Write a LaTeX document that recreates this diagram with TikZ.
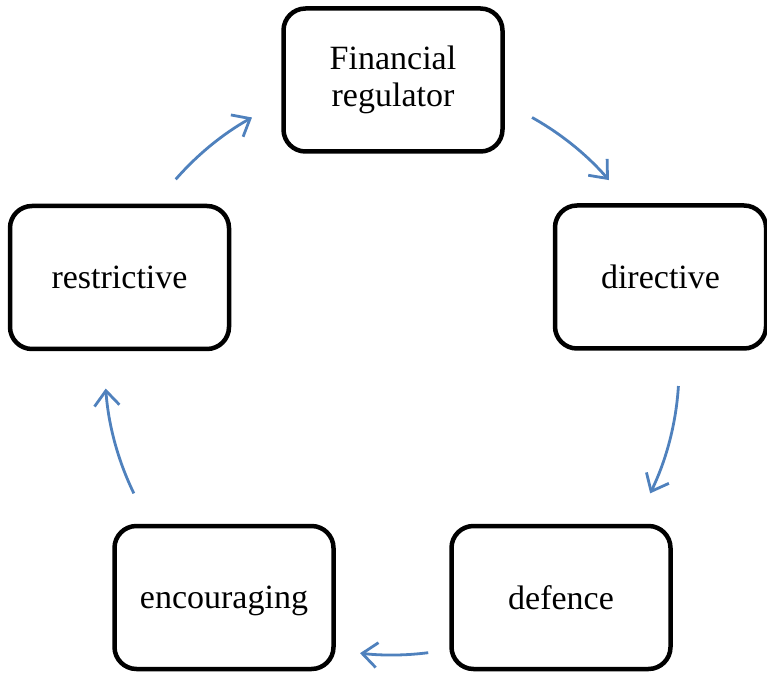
\documentclass[tikz,border=0pt]{standalone}
\usepackage{fontspec}
\setmainfont{Liberation Serif}
\usetikzlibrary{arrows.meta}
\definecolor{arrblue}{RGB}{79,129,189}
\tikzset{
  box/.style={draw=black, line width=4.5pt, rounded corners=22pt, fill=white,
    minimum width=219pt, minimum height=143pt, align=center, inner sep=0pt,
    font=\fontsize{34}{37}\selectfont},
  arr/.style={draw=arrblue, line width=2.8pt, -{Straight Barb[length=15pt,width=25pt,line width=2.8pt]}}
}
\begin{document}
\begin{tikzpicture}[x=1pt,y=1pt]
\useasboundingbox (0,0) rectangle (767,672);
\node[box] (fin) at (393,592) {Financial\\regulator};
\node[box, minimum width=211pt] (dir) at (660.5,395) {directive};
\node[box] (def) at (561,74.5) {defence};
\node[box, text depth=0pt] (enc) at (224,74.5) {encouraging};
\node[box] (res) at (119.5,394.5) {restrictive};
\coordinate (c) at (392,304);
\coordinate (a1) at ([shift={(60.8:287)}]c);
\coordinate (a2) at ([shift={(-3.6:287)}]c);
\coordinate (a3) at ([shift={(-82.75:287)}]c);
\coordinate (a4) at ([shift={(205.9:287)}]c);
\coordinate (a5) at ([shift={(138.9:287)}]c);
\draw[arr] (a1) arc[start angle=60.8, end angle=40.9, radius=287];
\draw[arr] (a2) arc[start angle=-3.6, end angle=-25.9, radius=287];
\draw[arr] (a3) arc[start angle=-82.75, end angle=-96.4, radius=287];
\draw[arr] (a4) arc[start angle=205.9, end angle=184.1, radius=287];
\draw[arr] (a5) arc[start angle=138.9, end angle=119.2, radius=287];
\end{tikzpicture}
\end{document}
